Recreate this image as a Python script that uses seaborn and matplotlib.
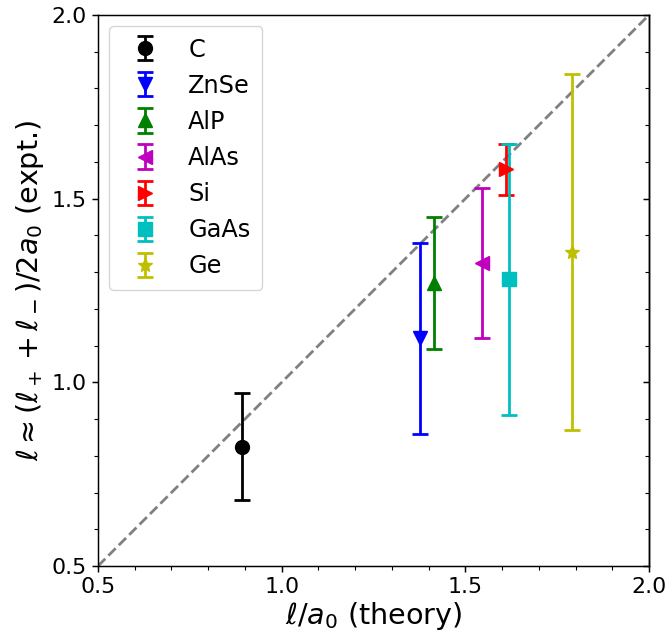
import matplotlib
matplotlib.use("Agg")
import matplotlib.pyplot as plt
import seaborn as sns
import numpy as np
from matplotlib.ticker import MultipleLocator

materials = ["C", "ZnSe", "AlP", "AlAs", "Si", "GaAs", "Ge"]
theory = [0.893, 1.377, 1.415, 1.545, 1.61, 1.62, 1.79]
expt = [0.825, 1.12, 1.27, 1.325, 1.58, 1.28, 1.355]
expt_err = [0.145, 0.26, 0.18, 0.205, 0.07, 0.37, 0.485]
markers = ["o", "v", "^", "<", ">", "s", "*"]
colors = ["#000000", "#0000ff", "#008000", "#bf00bf", "#ff0000", "#00bfbf", "#bfbf00"]

diag = [0.5, 2.0]

sns.set_theme(style="ticks", color_codes=False)
S = 1.332
plt.rcParams.update({
    "font.family": ["DejaVu Sans"],
    "font.size": 12 * S,
    "text.color": "black",
    "axes.labelcolor": "black",
    "xtick.color": "black",
    "ytick.color": "black",
    "axes.linewidth": 0.8 * S,
    "xtick.major.width": 0.8 * S,
    "ytick.major.width": 0.8 * S,
    "xtick.minor.width": 0.6 * S,
    "ytick.minor.width": 0.6 * S,
    "xtick.major.size": 3.5 * S,
    "ytick.major.size": 3.5 * S,
    "xtick.minor.size": 2 * S,
    "ytick.minor.size": 2 * S,
    "axes.edgecolor": "black",
    "mathtext.fontset": "dejavusans",
})

fig = plt.figure(figsize=(6.66, 6.37), dpi=100)
L, R, B, T = 98 / 666, 649 / 666, 1 - 566 / 637, 1 - 15 / 637
ax = fig.add_axes([L, B, R - L, T - B])

sns.lineplot(x=diag, y=diag, ax=ax, color="gray", linestyle="--", linewidth=1.5 * S)

for name, xv, yv, ev, mk, c in zip(materials, theory, expt, expt_err, markers, colors):
    ax.errorbar(xv, yv, yerr=ev, fmt=mk, color=c, label=name,
                markersize=7.5 * S, capsize=4.5 * S, elinewidth=1.5 * S,
                capthick=1.5 * S)

ax.set_xlim(0.5, 2.0)
ax.set_ylim(0.5, 2.0)
ax.xaxis.set_major_locator(MultipleLocator(0.5))
ax.yaxis.set_major_locator(MultipleLocator(0.5))
ax.xaxis.set_minor_locator(MultipleLocator(0.1))
ax.yaxis.set_minor_locator(MultipleLocator(0.1))
ax.tick_params(which="both", direction="out", labelsize=12 * S)

sec = ax.secondary_yaxis("right")
sec.yaxis.set_major_locator(MultipleLocator(0.5))
sec.yaxis.set_minor_locator(MultipleLocator(0.1))
sec.tick_params(which="both", direction="in", labelright=False)

ax.set_xlabel(r"$\ell/a_0$ (theory)", fontsize=15.5 * S, labelpad=2)
ax.set_ylabel(r"$\ell \approx (\ell_+ + \ell_-)/2a_0$ (expt.)", fontsize=15.5 * S, labelpad=4)

leg = ax.legend(loc="upper left", fontsize=13 * S, frameon=True, borderpad=0.5,
                labelspacing=0.5, handletextpad=0.8, borderaxespad=0.45)
leg.get_frame().set_edgecolor("#cccccc")

fig.savefig("out.png", dpi=100)
